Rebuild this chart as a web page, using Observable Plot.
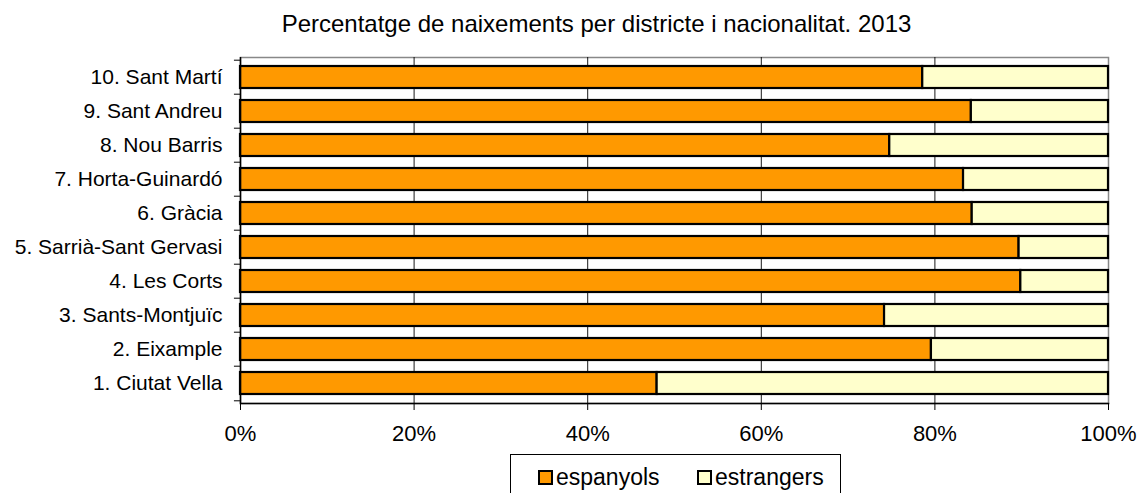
<!DOCTYPE html>
<html>
<head>
<meta charset="utf-8">
<script src="https://cdn.jsdelivr.net/npm/d3@7"></script>
<script src="https://cdn.jsdelivr.net/npm/@observablehq/plot@0.6"></script>
<style>
  html, body { margin: 0; padding: 0; background: #fff; }
  body { width: 1145px; height: 493px; overflow: hidden; position: relative; font-family: "Liberation Sans", Arial, sans-serif; }
  #title { position: absolute; left: 0; top: 0; width: 1193px; height: 45px; text-align: center; font-size: 24px; line-height: 24px; padding-top: 12px; box-sizing: border-box; color: #000; }
  #chart { position: absolute; left: 0; top: 45px; }
  #legend { position: absolute; left: 510px; top: 454px; width: 331px; height: 50px; border: 1px solid #000; box-sizing: border-box; font-size: 23px; color: #000; }
  .item { position: absolute; top: 9px; display: flex; align-items: center; }
  .sw { width: 11px; height: 11px; border: 2px solid #000; margin-right: 3px; }
</style>
</head>
<body>
<div id="title">Percentatge de naixements per districte i nacionalitat. 2013</div>
<div id="chart"></div>
<div id="legend">
  <div class="item" style="left:27px"><div class="sw" style="background:#FF9900"></div><span>espanyols</span></div>
  <div class="item" style="left:186px"><div class="sw" style="background:#FFFFCC"></div><span>estrangers</span></div>
</div>
<script>
const districts = ["10. Sant Martí", "9. Sant Andreu", "8. Nou Barris", "7. Horta-Guinardó", "6. Gràcia",
  "5. Sarrià-Sant Gervasi", "4. Les Corts", "3. Sants-Montjuïc", "2. Eixample", "1. Ciutat Vella"];
const espanyols = [78.6, 84.2, 74.8, 83.3, 84.3, 89.7, 89.9, 74.2, 79.6, 48.0];
const series = ["espanyols", "estrangers"];
const colors = ["#FF9900", "#FFFFCC"];
const xTicks = [0, 0.2, 0.4, 0.6, 0.8, 1];

const data = [];
districts.forEach((d, i) => {
  data.push({district: d, nat: "espanyols", value: espanyols[i] / 100});
  data.push({district: d, nat: "estrangers", value: (100 - espanyols[i]) / 100});
});

const W = 1145, H = 405, mT = 12, mB = 47, mL = 240, mR = 37;
const step = (H - mT - mB) / districts.length;

const chart = Plot.plot({
  width: W, height: H,
  marginTop: mT, marginBottom: mB, marginLeft: mL, marginRight: mR,
  style: {fontFamily: "'Liberation Sans', Arial, sans-serif", background: "#fff", color: "#000"},
  x: {domain: [0, 1]},
  y: {domain: districts, paddingInner: 0.36, paddingOuter: 0.18},
  color: {domain: series, range: colors},
  marks: [
    Plot.frame({stroke: "#888", strokeWidth: 1.5}),
    Plot.gridX(xTicks.slice(1, 5), {stroke: "#000", strokeOpacity: 0.9, strokeWidth: 1}),
    Plot.barX(data, Plot.stackX({x: "value", y: "district", fill: "nat", stroke: "#000", strokeWidth: 2.2})),
    Plot.ruleX([0], {stroke: "#000", strokeWidth: 1.5}),
    Plot.frame({anchor: "bottom", stroke: "#000", strokeWidth: 1.5}),
    Plot.ruleY(districts, {y: d => d, x1: -0.007, x2: 0, dy: -step / 2, stroke: "#000"}),
    Plot.ruleY(districts.slice(-1), {y: d => d, x1: -0.007, x2: 0, dy: step / 2, stroke: "#000"}),
    Plot.axisX(xTicks, {tickFormat: d => Math.round(d * 100) + "%", tickSize: 7, tickPadding: 15, fontSize: 22, label: null}),
    Plot.axisY({tickSize: 0, tickPadding: 18, fontSize: 21, label: null})
  ]
});
document.getElementById("chart").appendChild(chart);
</script>
</body>
</html>
